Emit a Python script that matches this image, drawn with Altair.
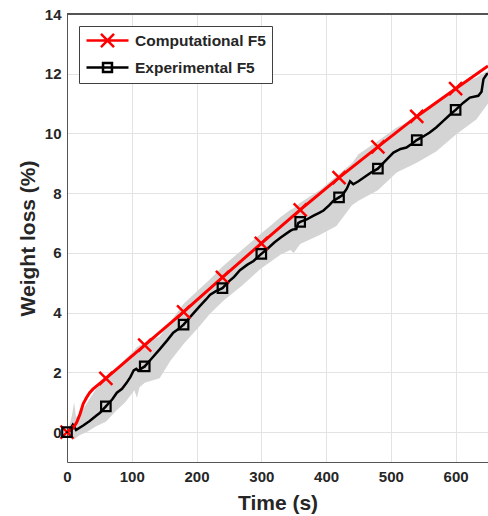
import altair as alt
import pandas as pd

# ---- data ----
series_names = ["Computational F5", "Experimental F5"]

red_t = [0, 5, 10, 15, 20, 25, 30, 35, 40, 46, 53, 60, 120, 180, 240, 300, 360, 420, 480, 540, 600, 650]
red_v = [0, 0.05, 0.15, 0.33, 0.6, 0.95, 1.15, 1.32, 1.44, 1.55, 1.67, 1.8, 2.91, 4.03, 5.18, 6.32, 7.44, 8.52, 9.55, 10.57, 11.5, 12.26]

black_t = [0, 5, 9, 11, 14, 25, 35, 45, 51, 60, 70, 77, 85, 92, 98, 103, 107, 110, 114, 120,
           130, 143, 155, 164, 172, 180, 192, 205, 215, 221, 230, 240, 250, 258, 267, 278, 288,
           300, 310, 320, 330, 344, 348, 354, 357, 360, 370, 380, 390, 396, 405, 411, 420, 425,
           432, 437, 442, 450, 460, 470, 480, 490, 504, 515, 524, 532, 540, 550, 560, 570, 581,
           590, 600, 612, 622, 635, 640, 643, 648, 650]
black_v = [0, 0.1, 0.25, 0.2, 0.07, 0.22, 0.37, 0.55, 0.65, 0.86, 1.1, 1.32, 1.45, 1.65, 1.85, 2.07, 2.12, 2.05, 2.12, 2.2,
           2.45, 2.77, 3.08, 3.33, 3.45, 3.6, 3.9, 4.22, 4.45, 4.6, 4.72, 4.82, 5.05, 5.2, 5.42, 5.6, 5.73,
           5.97, 6.15, 6.35, 6.52, 6.73, 6.78, 6.8, 7.0, 7.04, 7.12, 7.24, 7.35, 7.42, 7.6, 7.74, 7.86, 7.93,
           8.15, 8.4, 8.3, 8.4, 8.55, 8.7, 8.82, 9.05, 9.36, 9.48, 9.53, 9.65, 9.78, 9.9, 10.03, 10.2, 10.42,
           10.6, 10.79, 11.03, 11.2, 11.26, 11.4, 11.82, 11.98, 12.0]

band_t = [0, 3, 8, 11, 14, 20, 30, 45, 60, 75, 90, 104, 108, 112, 120, 143, 160, 180, 205, 220,
          241, 270, 298, 330, 345, 350, 360, 390, 416, 440, 450, 480, 509, 540, 570, 601, 632, 650]
band_lo = [0, -0.15, -0.25, -0.25, -0.2, -0.1, 0.0, 0.2, 0.35, 0.7, 1.0, 1.4, 1.15, 1.5, 1.65, 1.8, 2.4, 2.95, 3.55, 3.95,
           4.39, 4.9, 5.45, 5.95, 6.1, 6.0, 6.3, 6.6, 6.9, 7.6, 7.75, 8.1, 8.69, 9.02, 9.4, 9.97, 10.47, 11.0]
band_hi = [0, 0.15, 0.6, 1.0, 0.5, 0.6, 0.95, 1.45, 1.75, 2.1, 2.45, 2.75, 2.85, 2.9, 3.0, 3.2, 3.7, 4.3, 4.8, 5.1,
           5.56, 6.1, 6.62, 7.2, 7.45, 7.5, 7.68, 8.1, 8.58, 9.0, 9.3, 9.75, 10.2, 10.53, 11.0, 11.59, 11.87, 12.1]

x_ticks = [0, 100, 200, 300, 400, 500, 600]
y_ticks = [0, 2, 4, 6, 8, 10, 12, 14]

red_df = pd.DataFrame({"t": red_t, "v": red_v, "series": series_names[0]})
black_df = pd.DataFrame({"t": black_t, "v": black_v, "series": series_names[1]})
band_df = pd.DataFrame({"t": band_t, "lo": band_lo, "hi": band_hi})

FONT = "Liberation Sans"
TXT = "#262626"

xs = alt.Scale(domain=[0, 650], nice=False, zero=False)
ys = alt.Scale(domain=[-1, 14], nice=False, zero=False)

x_axis = alt.Axis(values=x_ticks, title="Time (s)", format="d", labelFlush=False)
y_axis = alt.Axis(values=y_ticks, title="Weight loss (%)", format="d", labelFlush=False)

X = alt.X("t:Q", scale=xs, axis=x_axis)
Y = alt.Y("v:Q", scale=ys, axis=y_axis)

band = alt.Chart(band_df).mark_area(color="#d4d4d4", opacity=1).encode(
    x=alt.X("t:Q", scale=xs, axis=x_axis),
    y=alt.Y("lo:Q", scale=ys, axis=y_axis),
    y2="hi:Q",
)

black_line = alt.Chart(black_df).mark_line(color="black", strokeWidth=2.5).encode(x=X, y=Y)
red_line = alt.Chart(red_df).mark_line(color="#ff0000", strokeWidth=3).encode(x=X, y=Y)

marker_filter = "datum.t % 60 == 0 && datum.t <= 600"

red_marks = alt.Chart(red_df).transform_filter(marker_filter).mark_point(
    shape="M-1,-1L1,1M-1,1L1,-1", filled=False, size=169, strokeWidth=2.5,
    color="#ff0000", opacity=1,
).encode(x=X, y=Y)

black_marks = alt.Chart(black_df).transform_filter(marker_filter).mark_point(
    shape="square", filled=False, size=90, strokeWidth=2.2, color="black", opacity=1,
).encode(x=X, y=Y)

black_dots = alt.Chart(black_df).transform_filter(marker_filter).mark_point(
    shape="square", filled=True, size=3, color="black", opacity=1,
).encode(x=X, y=Y)

top_border = alt.Chart(red_df).mark_rule(color="#555555", strokeWidth=1).encode(
    y=alt.datum(14, scale=ys)
)

leg_x = "M-1,0L5,0M1.07,-0.93L2.93,0.93M1.07,0.93L2.93,-0.93"
leg_sq = "M-1,0L5,0M1.36,-0.64L2.64,-0.64L2.64,0.64L1.36,0.64Z"

def make_legend():
    return alt.Legend(title=None, orient="none", legendX=12, legendY=12,
                      symbolSize=196, symbolStrokeWidth=2.5, labelOffset=33,
                      labelFont=FONT, labelFontSize=15.5, labelFontWeight="bold",
                      labelColor=TXT, rowPadding=5, padding=6,
                      strokeColor="#404040", fillColor="white", symbolOpacity=1)

legend_layer = alt.Chart(red_df).transform_filter("datum.t < 0").mark_point(
    filled=False, size=196, strokeWidth=2.5, opacity=1
).encode(
    x=X, y=Y,
    color=alt.Color("series:N", scale=alt.Scale(domain=series_names, range=["#ff0000", "black"]),
                    legend=make_legend()),
    shape=alt.Shape("series:N", scale=alt.Scale(domain=series_names, range=[leg_x, leg_sq]),
                    legend=make_legend()),
)

chart = alt.layer(
    band, black_line, red_line, red_marks, black_marks, black_dots, top_border, legend_layer
).properties(
    width=421, height=448,
    autosize=alt.AutoSizeParams(type="none"),
    padding={"left": 67, "top": 14, "right": 0, "bottom": 54},
    background="white",
).configure_view(stroke=None).configure_axis(
    grid=True, gridColor="#e3e3e3", gridWidth=1,
    domainColor="#555555", domainWidth=1, ticks=False,
    labelFont=FONT, labelFontSize=15, labelFontWeight="bold", labelColor=TXT,
    titleFont=FONT, titleFontSize=21, titleFontWeight="bold", titleColor=TXT,
).configure_axisX(labelPadding=7, titlePadding=8).configure_axisY(labelPadding=6, titlePadding=6)

chart.save("out.html", embed_options={"renderer": "svg", "actions": False})
